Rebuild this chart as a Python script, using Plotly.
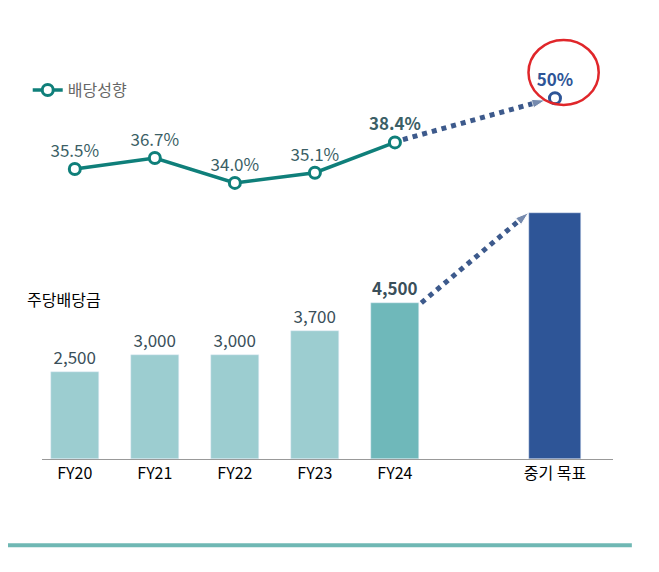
import plotly.graph_objects as go

# Data
years = ["FY20", "FY21", "FY22", "FY23", "FY24"]
dps = [2500, 3000, 3000, 3700, 4500]
payout = [35.5, 36.7, 34.0, 35.1, 38.4]
target_label = "중기 목표"
target_dps = 7100          # drawn bar height (no value shown)
target_payout = 50         # shown label
target_payout_plot = 43.2  # schematic position on payout axis

x_years = list(range(len(years)))
x_target = len(years) + 1

font = "Noto Sans CJK KR"
teal = "#0f7f7a"
navy = "#2e5597"

fig = go.Figure()

bar_colors = ["#9ccdd0"] * 4 + ["#6fb8ba"]
fig.add_trace(go.Bar(
    x=x_years, y=dps, width=0.6, marker_color=bar_colors,
    text=[f"<b>{v:,}</b>" if i == len(dps) - 1 else f"{v:,}" for i, v in enumerate(dps)],
    textposition="outside",
    textfont=dict(size=17, color="#3a4f5a", family=font),
    cliponaxis=False, showlegend=False, hoverinfo="skip"))
fig.add_trace(go.Bar(
    x=[x_target], y=[target_dps], width=0.65, marker_color=navy,
    showlegend=False, hoverinfo="skip"))

# dotted arrow bar FY24 -> target
fig.add_trace(go.Scatter(
    x=[x_years[-1] + 0.33, x_target - 0.33], y=[dps[-1], target_dps],
    mode="lines+markers", line=dict(color="#3d5a8c", width=5, dash="dot"),
    marker=dict(symbol="arrow", angleref="previous", size=[0, 14], color="#3d5a8c"),
    showlegend=False, hoverinfo="skip"))

# dotted arrow payout FY24 -> target
fig.add_trace(go.Scatter(
    x=[x_years[-1] + 0.1, x_target - 0.12], y=[payout[-1] + 0.3, target_payout_plot - 0.2],
    mode="lines+markers", line=dict(color="#3d5a8c", width=5, dash="dot"),
    marker=dict(symbol="arrow", angleref="previous", size=[0, 14], color="#3d5a8c"),
    yaxis="y2", showlegend=False, hoverinfo="skip"))

fig.add_trace(go.Scatter(
    x=x_years, y=payout, mode="lines+markers+text", name="배당성향",
    line=dict(color=teal, width=3.5),
    marker=dict(size=11, color="white", line=dict(color=teal, width=3)),
    text=[f"<b>{v:.1f}%</b>" if i == len(payout) - 1 else f"{v:.1f}%" for i, v in enumerate(payout)],
    textposition="top center", textfont=dict(size=17, color="#3b5f66", family=font),
    yaxis="y2", cliponaxis=False, hoverinfo="skip"))

fig.add_trace(go.Scatter(
    x=[x_target], y=[target_payout_plot], mode="markers+text",
    marker=dict(size=11, color="white", line=dict(color=navy, width=3)),
    text=[f"<b>{target_payout}%</b>"], textposition="top center",
    textfont=dict(size=17, color=navy, family=font),
    yaxis="y2", showlegend=False, cliponaxis=False, hoverinfo="skip"))

fig.update_layout(
    width=659, height=572, plot_bgcolor="white", paper_bgcolor="white",
    margin=dict(l=34, r=54, t=0, b=121),
    font=dict(family=font),
    bargap=0,
    xaxis=dict(range=[-0.41, 6.725], tickvals=x_years + [x_target],
               ticktext=years + [target_label], tickfont=dict(size=16, color="black"),
               showline=True, linecolor="#999", linewidth=1, showgrid=False, ticks=""),
    yaxis=dict(range=[0, 12997], visible=False, showgrid=False),
    yaxis2=dict(range=[4, 53.0], overlaying="y", visible=False, showgrid=False),
    legend=dict(x=-0.025, y=0.818, xanchor="left", yanchor="middle",
                font=dict(size=16, color="#666"), bgcolor="rgba(0,0,0,0)"),
    shapes=[
        dict(type="circle", xref="paper", yref="paper", x0=0.852, x1=0.975,
             y0=0.785, y1=0.929, line=dict(color="#e0262a", width=2.5)),
        dict(type="line", xref="paper", yref="paper", x0=-0.06, x1=1.033,
             y0=-0.191, y1=-0.191, line=dict(color="#6fb8b4", width=4)),
    ],
    annotations=[dict(text="주당배당금", xref="paper", yref="paper", x=-0.03, y=0.324,
                      xanchor="left", showarrow=False, font=dict(size=16, color="black"))],
)

fig.write_html("out.html")
